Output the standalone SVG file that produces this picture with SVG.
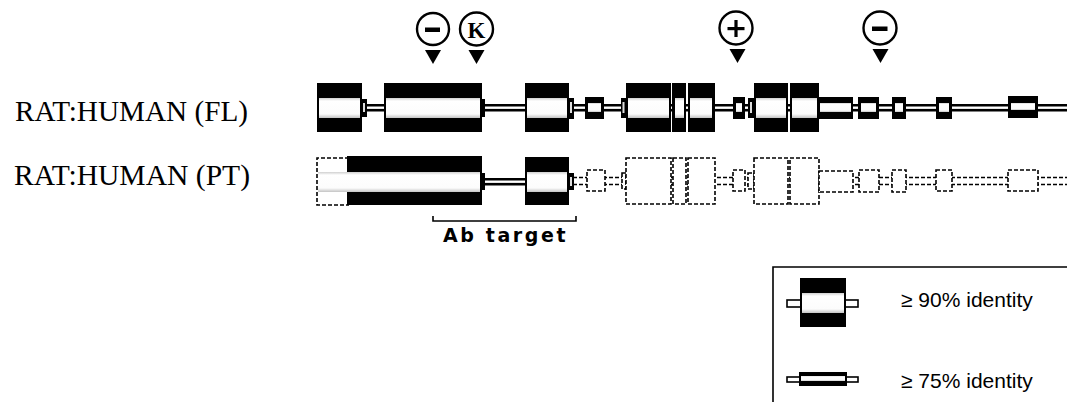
<svg xmlns="http://www.w3.org/2000/svg" width="1067" height="402" viewBox="0 0 1067 402">
<defs>
<linearGradient id="g" x1="0" y1="0" x2="0" y2="1">
<stop offset="0" stop-color="#d0d0d0"/>
<stop offset="0.15" stop-color="#fff"/>
<stop offset="0.8" stop-color="#fcfcfc"/>
<stop offset="1" stop-color="#c4c4c4"/>
</linearGradient>
<path id="tri" d="M-8,0 L8,0 L0,14 Z"/>
</defs>
<style>
.ex{fill:#000}
.band{fill:url(#g)}
.dx{fill:#fff;stroke:#000;stroke-width:1.6;stroke-dasharray:4 2}
.dl{fill:none;stroke:#000;stroke-width:1.6;stroke-dasharray:4 2}
.lbl{font-family:"Liberation Serif","Times New Roman",serif;font-size:30px;fill:#000}
.leg{font-family:"Liberation Sans",Arial,sans-serif;font-size:21px;fill:#000}
.ring{fill:#fff;stroke:#000;stroke-width:2.4}
</style>
<rect width="1067" height="402" fill="#fff"/>

<g id="labels">
<text class="lbl" x="15" y="121" textLength="233" lengthAdjust="spacingAndGlyphs">RAT:HUMAN  (FL)</text>
<text class="lbl" x="14" y="185" textLength="236" lengthAdjust="spacingAndGlyphs">RAT:HUMAN  (PT)</text>
</g>

<g id="markers">
<g id="m-minus1">
<circle class="ring" cx="433" cy="29" r="16"/>
<rect x="425" y="27.5" width="15" height="4.5"/>
<use href="#tri" x="433" y="50"/>
</g>
<g id="m-k">
<circle class="ring" cx="476.5" cy="29" r="16.5"/>
<text x="476.5" y="38" text-anchor="middle" font-family="Liberation Serif,serif" font-size="23" font-weight="bold">K</text>
<use href="#tri" x="476.5" y="50"/>
</g>
<g id="m-plus">
<circle class="ring" cx="736" cy="28" r="16.5"/>
<rect x="727.5" y="27" width="17" height="3.2"/>
<rect x="734.4" y="20" width="3.2" height="17"/>
<use href="#tri" x="737.5" y="49"/>
</g>
<g id="m-minus2">
<circle class="ring" cx="880" cy="28" r="16.5"/>
<rect x="872" y="26.5" width="15.5" height="4.5"/>
<use href="#tri" x="880.5" y="49"/>
</g>
</g>

<g id="connectors">
<rect x="362" y="104" width="705" height="7.5" fill="#000"/>
<rect x="362" y="106.5" width="705" height="2.4" fill="#fff"/>
<rect x="482" y="178" width="43" height="7.5" fill="#000"/>
<rect x="482" y="180.5" width="43" height="2.4" fill="#fff"/>
<line class="dl" x1="573" y1="177.5" x2="1067" y2="177.5"/>
<line class="dl" x1="573" y1="184.5" x2="1067" y2="184.5"/>
<path d="M433,216 V221 H576 V216" fill="none" stroke="#000" stroke-width="1.6"/>
</g>

<g id="row-fl">
<g id="fl-tabs">
<rect class="ex" x="361" y="99" width="6" height="18"/><rect x="363" y="103" width="2" height="9" fill="#ddd"/>
<rect class="ex" x="480" y="99" width="5" height="18"/>
<rect class="ex" x="568" y="98" width="6" height="21"/><rect x="570" y="102" width="2" height="11" fill="#ddd"/>
<rect class="ex" x="621" y="98" width="6" height="20"/><rect x="622.5" y="102" width="2" height="11" fill="#ddd"/>
<rect class="ex" x="748" y="98" width="7" height="20"/><rect x="750" y="102" width="2" height="11" fill="#ddd"/>
</g>
<g id="fl-e1"><rect class="ex" x="317" y="83" width="45" height="49"/><rect class="band" x="319" y="98" width="41" height="20"/></g>
<g id="fl-e2"><rect class="ex" x="384" y="83" width="98" height="49"/><rect class="band" x="386" y="98" width="94" height="20"/></g>
<g id="fl-e3"><rect class="ex" x="525" y="83" width="44" height="49"/><rect class="band" x="527" y="98" width="40" height="20"/></g>
<g id="fl-e4"><rect class="ex" x="585" y="97" width="19" height="22"/><rect class="band" x="588" y="103" width="13" height="9"/></g>
<g id="fl-e5"><rect class="ex" x="626" y="83" width="45" height="49"/><rect class="band" x="628" y="98" width="41" height="20"/></g>
<g id="fl-e6"><rect class="ex" x="672" y="83" width="14" height="49"/><rect class="band" x="675" y="98" width="9" height="20"/></g>
<g id="fl-e7"><rect class="ex" x="688" y="83" width="27" height="49"/><rect class="band" x="690" y="98" width="22" height="20"/></g>
<g id="fl-e8"><rect class="ex" x="733" y="97" width="12" height="22"/><rect class="band" x="736" y="103" width="6" height="9"/></g>
<g id="fl-e9"><rect class="ex" x="754" y="83" width="34" height="49"/><rect class="band" x="756" y="98" width="30" height="20"/></g>
<g id="fl-e10"><rect class="ex" x="790" y="83" width="29" height="49"/><rect class="band" x="792" y="98" width="25" height="20"/></g>
<g id="fl-e11"><rect class="ex" x="819" y="97" width="34" height="22"/><rect class="band" x="820" y="103" width="31" height="9"/></g>
<g id="fl-e12"><rect class="ex" x="858" y="97" width="21" height="22"/><rect class="band" x="861" y="103" width="15" height="9"/></g>
<g id="fl-e13"><rect class="ex" x="892" y="97" width="14" height="22"/><rect class="band" x="895" y="103" width="8" height="9"/></g>
<g id="fl-e14"><rect class="ex" x="936" y="97" width="16" height="22"/><rect class="band" x="939" y="103" width="10" height="9"/></g>
<g id="fl-e15"><rect class="ex" x="1008" y="96" width="30" height="22"/><rect class="band" x="1011" y="103" width="24" height="7"/></g>
</g>

<g id="row-pt">
<g id="pt-tabs">
<rect class="ex" x="480" y="173" width="5" height="17"/>
<rect class="ex" x="568" y="173" width="6" height="17"/><rect x="570" y="177" width="2" height="9" fill="#ddd"/>
<rect class="dx" x="622" y="173" width="4" height="16"/>
<rect class="dx" x="748" y="173" width="6" height="16"/>
</g>
<g id="pt-e1">
<path class="dx" d="M349,158 H317 V205 H349"/>
<rect class="ex" x="347" y="156" width="135" height="49"/>
<rect class="band" x="318" y="172" width="162" height="20"/>
</g>
<g id="pt-e3"><rect class="ex" x="525" y="157" width="44" height="48"/><rect class="band" x="527" y="172" width="40" height="20"/></g>
<g id="pt-e4"><rect class="dx" x="587" y="170" width="18" height="21"/></g>
<g id="pt-e5"><rect class="dx" x="626" y="158" width="45" height="46"/></g>
<g id="pt-e6"><rect class="dx" x="673" y="158" width="13" height="46"/></g>
<g id="pt-e7"><rect class="dx" x="688" y="158" width="27" height="46"/></g>
<g id="pt-e8"><rect class="dx" x="733" y="170" width="12" height="21"/></g>
<g id="pt-e9"><rect class="dx" x="754" y="158" width="34" height="46"/></g>
<g id="pt-e10"><rect class="dx" x="790" y="158" width="29" height="46"/></g>
<g id="pt-e11"><rect class="dx" x="819" y="171" width="34" height="21"/></g>
<g id="pt-e12"><rect class="dx" x="859" y="170" width="20" height="22"/></g>
<g id="pt-e13"><rect class="dx" x="892" y="170" width="14" height="22"/></g>
<g id="pt-e14"><rect class="dx" x="936" y="170" width="16" height="21"/></g>
<g id="pt-e15"><rect class="dx" x="1008" y="170" width="30" height="21"/></g>
</g>

<g id="ab-target">
<text x="443" y="242" font-family="DejaVu Sans,sans-serif" font-size="19" font-weight="bold" letter-spacing="2.6">Ab target</text>
</g>

<g id="legend">
<path d="M773,402 V267 H1067" fill="none" stroke="#000" stroke-width="1.6"/>
<g id="leg-90">
<rect x="787" y="300" width="71" height="7" fill="#fff" stroke="#000" stroke-width="1.6"/>
<rect class="ex" x="800" y="278" width="46" height="49"/>
<rect class="band" x="802" y="293" width="42" height="20"/>
<text class="leg" x="901" y="307">≥ 90% identity</text>
</g>
<g id="leg-75">
<rect x="787" y="377" width="71" height="5" fill="#fff" stroke="#000" stroke-width="1.6"/>
<rect class="ex" x="799" y="372" width="48" height="14"/>
<rect class="band" x="801" y="376" width="44" height="5"/>
<text class="leg" x="901" y="388">≥ 75% identity</text>
</g>
</g>
</svg>
